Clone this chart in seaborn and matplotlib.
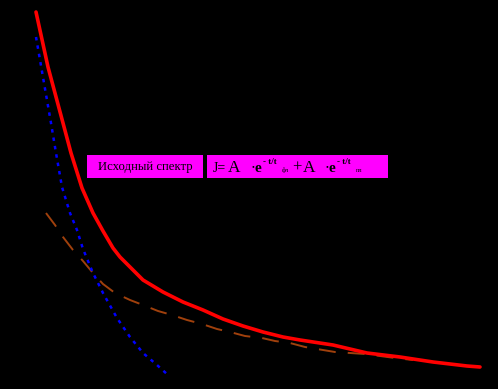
import matplotlib
matplotlib.use("Agg")
import matplotlib.pyplot as plt
import seaborn as sns
from matplotlib.patches import Rectangle

sns.set_style("white")
plt.rcParams['font.family'] = ['Liberation Serif', 'DejaVu Serif']

# Total spectrum (red, solid)
t_total = [36, 48, 63, 71, 82, 93, 103, 113, 120, 130, 143, 163, 183, 203, 223,
           243, 263, 283, 300, 333, 367, 400, 433, 467, 480]
j_total = [377, 322, 266, 236, 201, 176, 158, 141, 132, 122, 109, 97, 87, 79, 70,
           63, 57, 52, 49, 44, 36, 32, 27, 23, 22]

# Fast component (blue, dotted)
t_fast = [36, 44, 51, 56, 62, 70, 77, 83, 93, 103, 117, 130, 143, 157, 168]
j_fast = [352, 306, 266, 236, 202, 176, 159, 140, 116, 96, 71, 52, 36, 24, 14]

# Slow component (brown, dashed)
t_slow = [46, 55, 63, 73, 83, 93, 103, 115, 130, 143, 158, 172, 187, 202, 217,
          230, 245, 262, 275, 290, 305, 335, 365, 395, 413]
j_slow = [176, 164, 152, 139, 128, 116, 105, 96, 89, 84, 78, 74, 69, 65, 60,
          57, 53, 51, 48, 46, 42, 37, 35, 31, 29]

fig = plt.figure(figsize=(4.98, 3.89), dpi=100, facecolor='black')
ax = fig.add_axes([0, 0, 1, 1])
ax.set_facecolor('black')

sns.lineplot(x=t_slow, y=j_slow, ax=ax, color='#A0400C', linewidth=1.4,
             linestyle=(0, (8.7, 6.2)), sort=False)
sns.lineplot(x=t_fast, y=j_fast, ax=ax, color='#0000FF', linewidth=1.8,
             linestyle=(0, (1.4, 2.0)), sort=False)
sns.lineplot(x=t_total, y=j_total, ax=ax, color='#FF0000', linewidth=2.6,
             sort=False)

ax.set_xlim(0, 498)
ax.set_ylim(0, 389)
ax.axis('off')

ax.add_patch(Rectangle((87, 211), 116, 23, facecolor='#FF00FF', edgecolor='none',
                       zorder=5))
ax.add_patch(Rectangle((207, 211), 181, 23, facecolor='#FF00FF', edgecolor='none',
                       zorder=5))
ax.text(145, 222, 'Исходный спектр', ha='center', va='center', fontsize=9.2,
        color='black', zorder=6)

kw = dict(color='black', zorder=6, va='center', ha='left')
ax.text(213, 221, 'J=', fontsize=10, **kw)
ax.text(228, 221, 'A', fontsize=12.5, **kw)
ax.text(250, 221, r'$\cdot$e', fontsize=11, fontweight='bold', **kw)
ax.text(263, 227, '- t/t', fontsize=6.5, fontweight='bold', **kw)
ax.text(282, 219, 'фл', fontsize=4.5, **kw)
ax.text(292, 221, '+', fontsize=12, **kw)
ax.text(303, 221, 'A', fontsize=12.5, **kw)
ax.text(324, 221, r'$\cdot$e', fontsize=11, fontweight='bold', **kw)
ax.text(337, 227, '- t/t', fontsize=6.5, fontweight='bold', **kw)
ax.text(356, 219, 'пл', fontsize=4.5, **kw)

fig.savefig('out.png', dpi=100, facecolor='black')
